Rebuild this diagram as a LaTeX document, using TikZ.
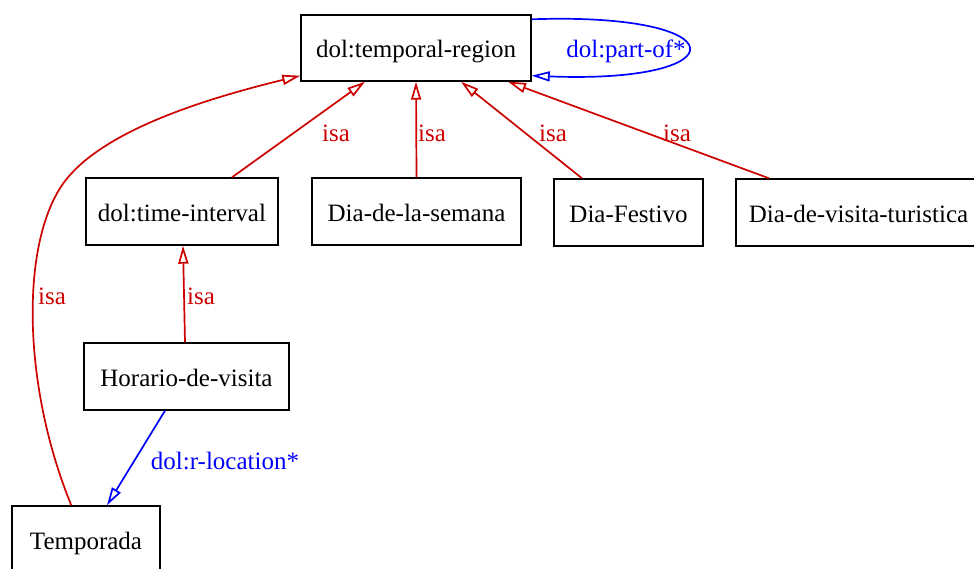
\documentclass[tikz,border=0pt]{standalone}
\usepackage{fontspec}
\setmainfont{Liberation Serif}
\usetikzlibrary{arrows.meta}
\definecolor{isared}{HTML}{CD0000}
\definecolor{relblue}{HTML}{0000FF}
\begin{document}
\begin{tikzpicture}[x=1pt,y=-1pt,
  every node/.style={font=\fontsize{25}{28}\selectfont},
  cls/.style={draw=black,line width=1.4pt,inner sep=0pt,minimum height=67pt,text height=20pt,text depth=0pt},
  isa/.style={draw=isared,line width=1.7pt,-{Triangle[open,length=18pt,width=10pt]}},
  rel/.style={draw=relblue,line width=1.7pt,-{Triangle[open,length=18pt,width=10pt]}},
  isalbl/.style={text=isared,inner sep=0pt},
  rellbl/.style={text=relblue,inner sep=0pt}]
\useasboundingbox (0,0) rectangle (974,569);
\node[cls,minimum width=230pt,minimum height=66pt] (tr) at (416,48) {dol:temporal-region};
\node[cls,minimum width=192pt] (ti) at (182,211.5) {dol:time-interval};
\node[cls,minimum width=209pt] (ds) at (416.5,211.5) {Dia-de-la-semana};
\node[cls,minimum width=149pt] (df) at (628.5,212.5) {Dia-Festivo};
\node[cls,minimum width=245pt] (dv) at (858.5,212.5) {Dia-de-visita-turistica};
\node[cls,minimum width=205pt] (hv) at (186.5,376.5) {Horario-de-visita};
\node[cls,minimum width=148pt] (tp) at (86,539.5) {Temporada};
% isa edges
\draw[isa] ([xshift=50pt]ti.north) -- ([xshift=-51pt]tr.south);
\draw[isa] (ds.north) -- (tr.south);
\draw[isa] ([xshift=-46.5pt]df.north) -- ([xshift=45pt]tr.south);
\draw[isa] ([xshift=-89.5pt]dv.north) -- ([xshift=92pt]tr.south);
\draw[isa] (hv.north -| 185,0) -- (ti.south -| 183,0);
\draw[isa] ([xshift=60pt]tp.north west) .. controls (20,380) and (20,230) .. (70,175)
  .. controls (110,130) and (200,100) .. ([yshift=6pt]tr.south west);
% relation edges
\draw[rel] ([xshift=-21.5pt]hv.south) -- ([xshift=21pt]tp.north);
\draw[rel] ([yshift=-5pt]tr.north east) .. controls (740,12) and (740,84) .. ([yshift=6pt]tr.south east);
% labels
\node[isalbl] (l1) at (336,133) {isa};
\node[isalbl] (l2) at (432,133) {isa};
\node[isalbl] (l3) at (553,133) {isa};
\node[isalbl] (l4) at (677,133) {isa};
\node[isalbl] (l5) at (52,296) {isa};
\node[isalbl] (l6) at (201,296) {isa};
\node[rellbl] (l7) at (225,461) {dol:r-location*};
\node[rellbl] (l8) at (626,51) {dol:part-of*};
\end{tikzpicture}
\end{document}
